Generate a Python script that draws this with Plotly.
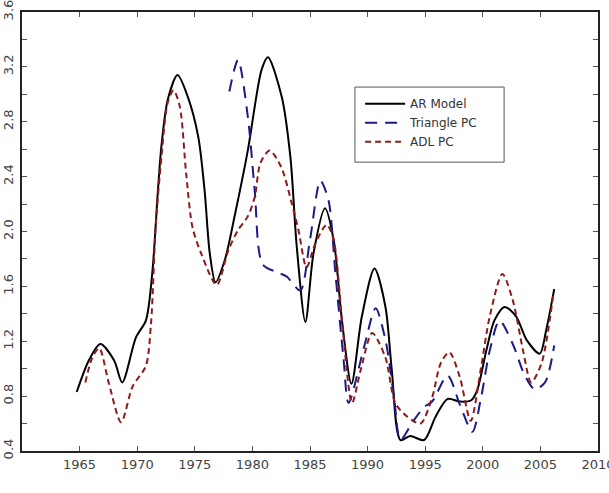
import plotly.graph_objects as go

# AR Model
ar_years = [1964.75, 1965.8, 1966.8, 1968.0, 1968.7, 1969.9, 1970.75, 1971.3, 1971.8, 1972.1, 1972.65,
            1973.5, 1974.4, 1975.3, 1975.85, 1976.3, 1976.8, 1977.6, 1978.5, 1979.6, 1980.8, 1981.35,
            1982.55, 1983.3, 1983.85, 1984.6, 1985.3, 1986.3, 1987.05, 1987.8, 1988.6, 1989.5, 1990.6,
            1991.55, 1992.1, 1992.85, 1993.7, 1994.9, 1995.9, 1996.95, 1998.0, 1999.0, 1999.5, 2000.3,
            2001.0, 2001.9, 2002.9, 2003.8, 2004.95, 2005.5, 2006.2]
ar_vals = [0.83, 1.06, 1.18, 1.06, 0.90, 1.23, 1.35, 1.69, 2.30, 2.62, 2.96,
           3.14, 2.98, 2.69, 2.30, 1.84, 1.63, 1.79, 2.13, 2.59, 3.18, 3.27,
           2.98, 2.54, 1.89, 1.34, 1.84, 2.17, 1.94, 1.33, 0.89, 1.38, 1.73,
           1.45, 0.99, 0.48, 0.51, 0.48, 0.65, 0.78, 0.76, 0.77, 0.84, 1.13,
           1.35, 1.45, 1.38, 1.21, 1.11, 1.28, 1.58]

# Triangle PC
tri_years = [1978.0, 1978.75, 1979.6, 1980.2, 1980.9, 1982.25, 1983.0, 1984.15, 1985.0, 1985.9, 1986.6,
             1987.2, 1987.9, 1988.35, 1989.7, 1990.7, 1991.55, 1992.3, 1992.85, 1993.9, 1994.9, 1995.6,
             1996.95, 1998.0, 1999.1, 1999.85, 2000.6, 2001.45, 2002.6, 2003.6, 2004.5, 2005.4, 2006.2]
tri_vals = [3.02, 3.25, 2.84, 2.30, 1.76, 1.70, 1.67, 1.57, 1.94, 2.37, 2.23,
            1.70, 1.08, 0.75, 1.16, 1.44, 1.21, 0.79, 0.48, 0.61, 0.72, 0.76,
            0.95, 0.74, 0.54, 0.79, 1.13, 1.35, 1.18, 0.96, 0.85, 0.90, 1.17]

# ADL PC
adl_years = [1965.5, 1966.1, 1966.7, 1967.55, 1968.6, 1969.6, 1970.75, 1971.2, 1971.6, 1972.1, 1972.65,
             1973.15, 1973.7, 1974.25, 1974.8, 1975.55, 1976.9, 1977.9, 1978.75, 1979.6, 1980.2, 1980.7,
             1981.5, 1982.5, 1983.4, 1984.0, 1984.7, 1985.45, 1986.45, 1987.05, 1987.8, 1988.65, 1989.4,
             1990.4, 1991.55, 1992.4, 1993.45, 1994.6, 1995.6, 1996.35, 1997.1, 1998.0, 1998.95, 1999.85,
             2000.6, 2001.7, 2002.6, 2003.5, 2004.2, 2005.1, 2006.1]
adl_vals = [0.90, 1.08, 1.15, 0.89, 0.61, 0.87, 1.02, 1.33, 2.03, 2.54, 2.94,
            3.03, 2.91, 2.42, 2.03, 1.84, 1.61, 1.86, 2.01, 2.11, 2.25, 2.50,
            2.59, 2.47, 2.21, 2.01, 1.74, 1.91, 2.05, 1.94, 1.33, 0.75, 0.99,
            1.26, 1.08, 0.75, 0.65, 0.60, 0.79, 1.04, 1.12, 0.94, 0.62, 1.01,
            1.38, 1.69, 1.50, 1.13, 0.90, 1.04, 1.53]

x_ticks = [1965, 1970, 1975, 1980, 1985, 1990, 1995, 2000, 2005, 2010]
y_ticks = [0.4, 0.8, 1.2, 1.6, 2.0, 2.4, 2.8, 3.2, 3.6]

fig = go.Figure()
fig.add_trace(go.Scatter(x=ar_years, y=ar_vals, mode="lines", name="AR Model",
                         line=dict(color="#000000", width=2, shape="spline", smoothing=0.8)))
fig.add_trace(go.Scatter(x=tri_years, y=tri_vals, mode="lines", name="Triangle PC",
                         line=dict(color="#1a1a8c", width=2, shape="spline", smoothing=0.8,
                                   dash="12px,8px")))
fig.add_trace(go.Scatter(x=adl_years, y=adl_vals, mode="lines", name="ADL PC",
                         line=dict(color="#8e1b1b", width=2, shape="spline", smoothing=0.8,
                                   dash="6px,4px")))

tick_font = dict(family="DejaVu Sans", size=13, color="#444444")
fig.update_layout(
    width=609, height=493,
    margin=dict(l=22, r=11, t=12, b=42),
    paper_bgcolor="white", plot_bgcolor="white",
    showlegend=True,
    legend=dict(x=0.587, y=0.824, xanchor="left", yanchor="top",
                bgcolor="rgba(0,0,0,0)", borderwidth=0,
                font=dict(family="DejaVu Sans", size=12, color="#333333"),
                tracegroupgap=0, itemwidth=40),
    shapes=[dict(type="rect", xref="paper", yref="paper",
                 x0=0.578, x1=0.837, y0=0.658, y1=0.829,
                 line=dict(color="#555555", width=1), fillcolor="white", layer="above")],
    xaxis=dict(range=[1960, 2010], tickvals=x_ticks, ticktext=[str(v) for v in x_ticks],
               automargin=False, ticklabeloverflow="allow",
               showgrid=False, zeroline=False, showline=True, linecolor="#222222", linewidth=2,
               mirror="ticks", ticks="inside", ticklen=5, tickcolor="#555555", tickwidth=1,
               tickfont=tick_font),
    yaxis=dict(range=[0.4, 3.6], tickvals=y_ticks, ticktext=[f"{v:.1f}" for v in y_ticks],
               automargin=False, ticklabeloverflow="allow",
               showgrid=False, zeroline=False, showline=True, linecolor="#222222", linewidth=2,
               mirror="ticks", ticks="inside", ticklen=5, tickcolor="#555555", tickwidth=1,
               tickangle=-90, tickfont=tick_font, ticklabelstandoff=2,
               minor=dict(dtick=0.2, tick0=0.4, ticks="inside", ticklen=5, tickcolor="#555555",
                          tickwidth=1, showgrid=False)),
)

fig.write_html("out.html")
